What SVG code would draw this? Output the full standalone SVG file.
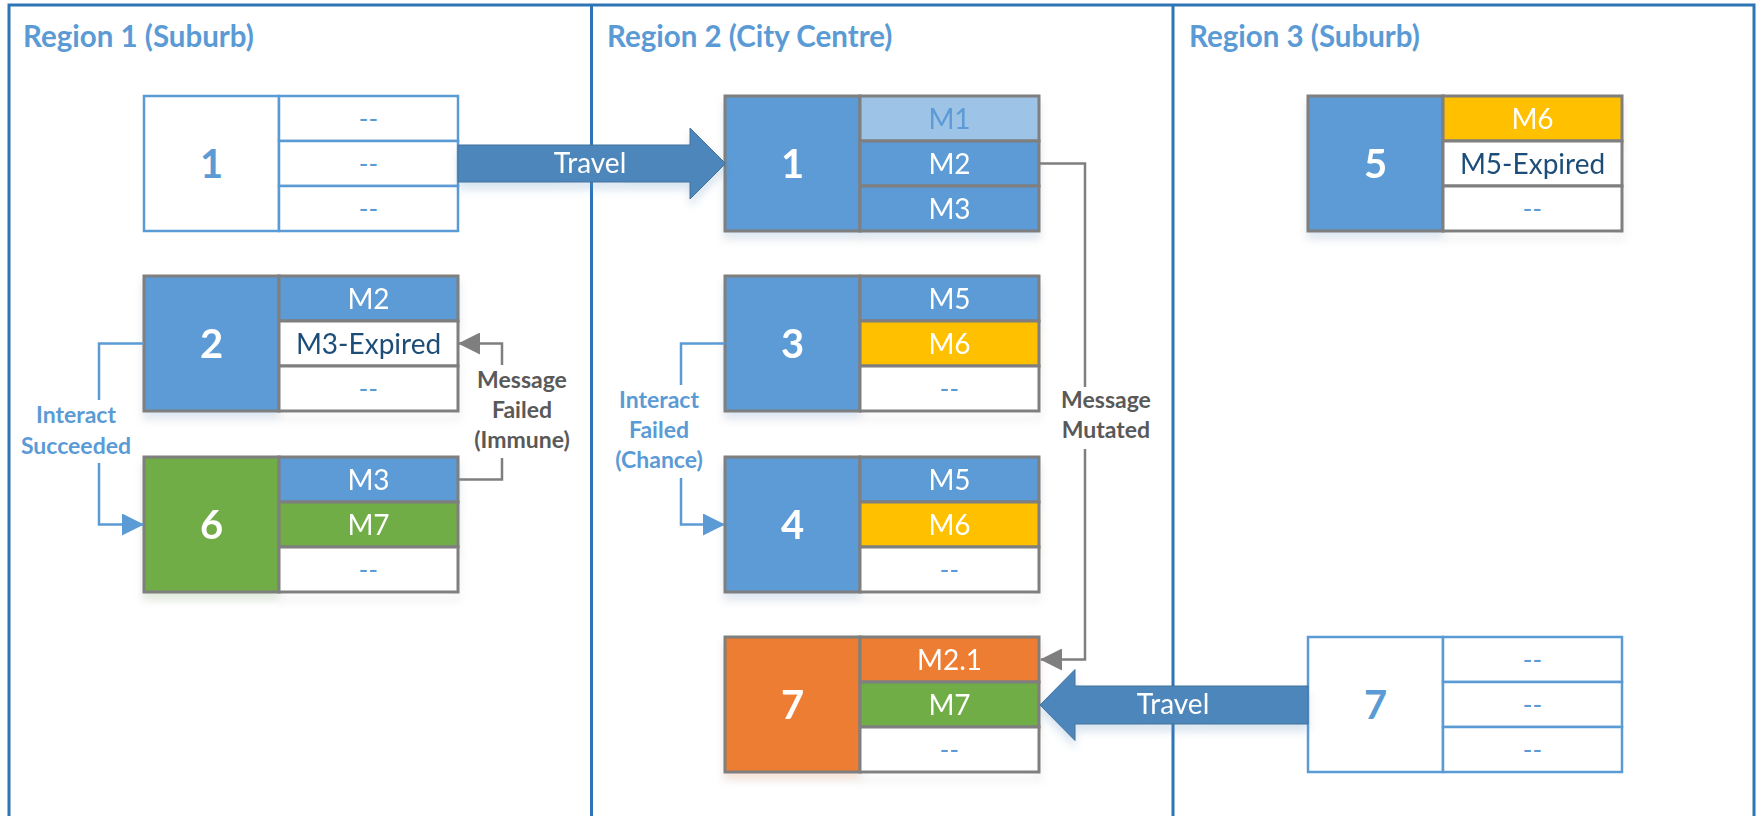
<svg xmlns="http://www.w3.org/2000/svg" width="1762" height="816" viewBox="0 0 1762 816">
  <defs>
    <style>
      .frame { stroke: #2E75B6; stroke-width: 3; fill: none; }
      .title { font-family: Lato, "Liberation Sans", sans-serif; font-weight: bold; font-size: 29.5px; fill: #5B9BD5; }
      .cell { stroke: #7F7F7F; stroke-width: 3; }
      .ocell { fill: #FFFFFF; stroke: #5B9BD5; stroke-width: 2.5; }
      .blue { fill: #5B9BD5; }
      .lblue { fill: #9DC3E6; }
      .yellow { fill: #FFC000; }
      .green { fill: #70AD47; }
      .orange { fill: #ED7D31; }
      .white { fill: #FFFFFF; }
      .num { font-family: Lato, "Liberation Sans", sans-serif; font-weight: bold; font-size: 40px; fill: #FFFFFF; text-anchor: middle; }
      .num.o { fill: #5B9BD5; }
      .txt { font-family: Lato, "Liberation Sans", sans-serif; font-size: 28px; fill: #FFFFFF; text-anchor: middle; }
      .txt.navy { fill: #1F4E79; }
      .txt.pale { fill: #5B9BD5; }
      .txt.dash { fill: #5B9BD5; font-size: 26px; }
      .lbl { font-family: Lato, "Liberation Sans", sans-serif; font-weight: bold; font-size: 23px; text-anchor: middle; }
      .lbl.b { fill: #5B9BD5; }
      .lbl.g { fill: #595959; }
      .conn-b { stroke: #5B9BD5; stroke-width: 2.5; fill: none; }
      .conn-g { stroke: #7F7F7F; stroke-width: 2.5; fill: none; }
      .travel { fill: #4E86BA; stroke: #41719C; stroke-width: 1; }
      .travel-txt { font-family: Lato, "Liberation Sans", sans-serif; font-size: 28px; fill: #FFFFFF; text-anchor: middle; }
    </style>
    <marker id="head-b" markerUnits="userSpaceOnUse" markerWidth="22" markerHeight="22" viewBox="0 0 22 22" refX="21" refY="11" orient="auto">
      <path d="M0,0 L22,11 L0,22 z" fill="#5B9BD5"/>
    </marker>
    <marker id="head-g" markerUnits="userSpaceOnUse" markerWidth="22" markerHeight="22" viewBox="0 0 22 22" refX="21" refY="11" orient="auto">
      <path d="M0,0 L22,11 L0,22 z" fill="#7F7F7F"/>
    </marker>
    <filter id="shadow" x="-10%" y="-10%" width="130%" height="140%">
      <feGaussianBlur in="SourceGraphic" stdDeviation="4"/>
      <feOffset dy="7"/>
      <feComponentTransfer><feFuncA type="linear" slope="0.22"/></feComponentTransfer>
      <feMerge><feMergeNode/><feMergeNode in="SourceGraphic"/></feMerge>
    </filter>
  </defs>

  <rect x="0" y="0" width="1762" height="816" fill="#FFFFFF"/>

  <!-- region frame and dividers -->
  <g id="regions">
    <path class="frame" d="M9,820 V5 H1754 V820"/>
    <line class="frame" x1="591.5" y1="5" x2="591.5" y2="820"/>
    <line class="frame" x1="1173" y1="5" x2="1173" y2="820"/>
    <text class="title" x="23" y="47">Region 1 (Suburb)</text>
    <text class="title" x="607" y="47">Region 2 (City Centre)</text>
    <text class="title" x="1189" y="47">Region 3 (Suburb)</text>
  </g>

  <!-- Region 1 nodes -->
  <g id="r1-node1" transform="translate(144,96)">
    <rect class="ocell" x="0" y="0" width="135" height="135"/>
    <rect class="ocell" x="135" y="0" width="179" height="45"/>
    <rect class="ocell" x="135" y="45" width="179" height="45"/>
    <rect class="ocell" x="135" y="90" width="179" height="45"/>
    <text class="num o" x="67.5" y="82">1</text>
    <text class="txt dash" x="224.5" y="32">--</text>
    <text class="txt dash" x="224.5" y="77">--</text>
    <text class="txt dash" x="224.5" y="122">--</text>
  </g>

  <g id="r1-node2" transform="translate(144,276)" filter="url(#shadow)">
    <rect class="cell blue" x="0" y="0" width="135" height="135"/>
    <rect class="cell blue" x="135" y="0" width="179" height="45"/>
    <rect class="cell white" x="135" y="45" width="179" height="45"/>
    <rect class="cell white" x="135" y="90" width="179" height="45"/>
    <text class="num" x="67.5" y="82">2</text>
    <text class="txt" x="224.5" y="32.5">M2</text>
    <text class="txt navy" x="224.5" y="77.5">M3-Expired</text>
    <text class="txt dash" x="224.5" y="122">--</text>
  </g>

  <g id="r1-node6" transform="translate(144,457)" filter="url(#shadow)">
    <rect class="cell green" x="0" y="0" width="135" height="135"/>
    <rect class="cell blue" x="135" y="0" width="179" height="45"/>
    <rect class="cell green" x="135" y="45" width="179" height="45"/>
    <rect class="cell white" x="135" y="90" width="179" height="45"/>
    <text class="num" x="67.5" y="82">6</text>
    <text class="txt" x="224.5" y="32.5">M3</text>
    <text class="txt" x="224.5" y="77.5">M7</text>
    <text class="txt dash" x="224.5" y="122">--</text>
  </g>

  <!-- Region 2 nodes -->
  <g id="r2-node1" transform="translate(725,96)" filter="url(#shadow)">
    <rect class="cell blue" x="0" y="0" width="135" height="135"/>
    <rect class="cell lblue" x="135" y="0" width="179" height="45"/>
    <rect class="cell blue" x="135" y="45" width="179" height="45"/>
    <rect class="cell blue" x="135" y="90" width="179" height="45"/>
    <text class="num" x="67.5" y="82">1</text>
    <text class="txt pale" x="224.5" y="32.5">M1</text>
    <text class="txt" x="224.5" y="77.5">M2</text>
    <text class="txt" x="224.5" y="122.5">M3</text>
  </g>

  <g id="r2-node3" transform="translate(725,276)" filter="url(#shadow)">
    <rect class="cell blue" x="0" y="0" width="135" height="135"/>
    <rect class="cell blue" x="135" y="0" width="179" height="45"/>
    <rect class="cell yellow" x="135" y="45" width="179" height="45"/>
    <rect class="cell white" x="135" y="90" width="179" height="45"/>
    <text class="num" x="67.5" y="82">3</text>
    <text class="txt" x="224.5" y="32.5">M5</text>
    <text class="txt" x="224.5" y="77.5">M6</text>
    <text class="txt dash" x="224.5" y="122">--</text>
  </g>

  <g id="r2-node4" transform="translate(725,457)" filter="url(#shadow)">
    <rect class="cell blue" x="0" y="0" width="135" height="135"/>
    <rect class="cell blue" x="135" y="0" width="179" height="45"/>
    <rect class="cell yellow" x="135" y="45" width="179" height="45"/>
    <rect class="cell white" x="135" y="90" width="179" height="45"/>
    <text class="num" x="67.5" y="82">4</text>
    <text class="txt" x="224.5" y="32.5">M5</text>
    <text class="txt" x="224.5" y="77.5">M6</text>
    <text class="txt dash" x="224.5" y="122">--</text>
  </g>

  <g id="r2-node7" transform="translate(725,637)" filter="url(#shadow)">
    <rect class="cell orange" x="0" y="0" width="135" height="135"/>
    <rect class="cell orange" x="135" y="0" width="179" height="45"/>
    <rect class="cell green" x="135" y="45" width="179" height="45"/>
    <rect class="cell white" x="135" y="90" width="179" height="45"/>
    <text class="num" x="67.5" y="82">7</text>
    <text class="txt" x="224.5" y="32.5">M2.1</text>
    <text class="txt" x="224.5" y="77.5">M7</text>
    <text class="txt dash" x="224.5" y="122">--</text>
  </g>

  <!-- Region 3 nodes -->
  <g id="r3-node5" transform="translate(1308,96)" filter="url(#shadow)">
    <rect class="cell blue" x="0" y="0" width="135" height="135"/>
    <rect class="cell yellow" x="135" y="0" width="179" height="45"/>
    <rect class="cell white" x="135" y="45" width="179" height="45"/>
    <rect class="cell white" x="135" y="90" width="179" height="45"/>
    <text class="num" x="67.5" y="82">5</text>
    <text class="txt" x="224.5" y="32.5">M6</text>
    <text class="txt navy" x="224.5" y="77.5">M5-Expired</text>
    <text class="txt dash" x="224.5" y="122">--</text>
  </g>

  <g id="r3-node7" transform="translate(1308,637)">
    <rect class="ocell" x="0" y="0" width="135" height="135"/>
    <rect class="ocell" x="135" y="0" width="179" height="45"/>
    <rect class="ocell" x="135" y="45" width="179" height="45"/>
    <rect class="ocell" x="135" y="90" width="179" height="45"/>
    <text class="num o" x="67.5" y="82">7</text>
    <text class="txt dash" x="224.5" y="32">--</text>
    <text class="txt dash" x="224.5" y="77">--</text>
    <text class="txt dash" x="224.5" y="122">--</text>
  </g>

  <!-- connectors -->
  <g id="connectors">
    <g id="travel-r1-r2" filter="url(#shadow)">
      <polygon class="travel" points="458,145 690,145 690,128 725.5,163.5 690,199 690,182 458,182"/>
      <text class="travel-txt" x="590" y="173">Travel</text>
    </g>
    <g id="travel-r3-r2" filter="url(#shadow)">
      <polygon class="travel" points="1308,686 1075,686 1075,669.5 1040,705 1075,740.5 1075,724 1308,724"/>
      <text class="travel-txt" x="1173" y="714">Travel</text>
    </g>

    <g id="interact-succeeded">
      <path class="conn-b" d="M144,343.5 H99 V400"/>
      <path class="conn-b" d="M99,463 V524.5 H143" marker-end="url(#head-b)"/>
      <text class="lbl b" x="76" y="423">Interact</text>
      <text class="lbl b" x="76" y="454">Succeeded</text>
    </g>

    <g id="message-failed">
      <path class="conn-g" d="M458,479.5 H502 V458"/>
      <path class="conn-g" d="M502,365 V343.5 H459" marker-end="url(#head-g)"/>
      <text class="lbl g" x="522" y="388">Message</text>
      <text class="lbl g" x="522" y="418">Failed</text>
      <text class="lbl g" x="522" y="448">(Immune)</text>
    </g>

    <g id="interact-failed">
      <path class="conn-b" d="M725,343.5 H681 V385"/>
      <path class="conn-b" d="M681,478 V524.5 H724" marker-end="url(#head-b)"/>
      <text class="lbl b" x="659" y="408">Interact</text>
      <text class="lbl b" x="659" y="438">Failed</text>
      <text class="lbl b" x="659" y="468">(Chance)</text>
    </g>

    <g id="message-mutated">
      <path class="conn-g" d="M1040,163.5 H1085 V387"/>
      <path class="conn-g" d="M1085,449 V659.5 H1041" marker-end="url(#head-g)"/>
      <text class="lbl g" x="1106" y="408">Message</text>
      <text class="lbl g" x="1106" y="438">Mutated</text>
    </g>
  </g>
</svg>
